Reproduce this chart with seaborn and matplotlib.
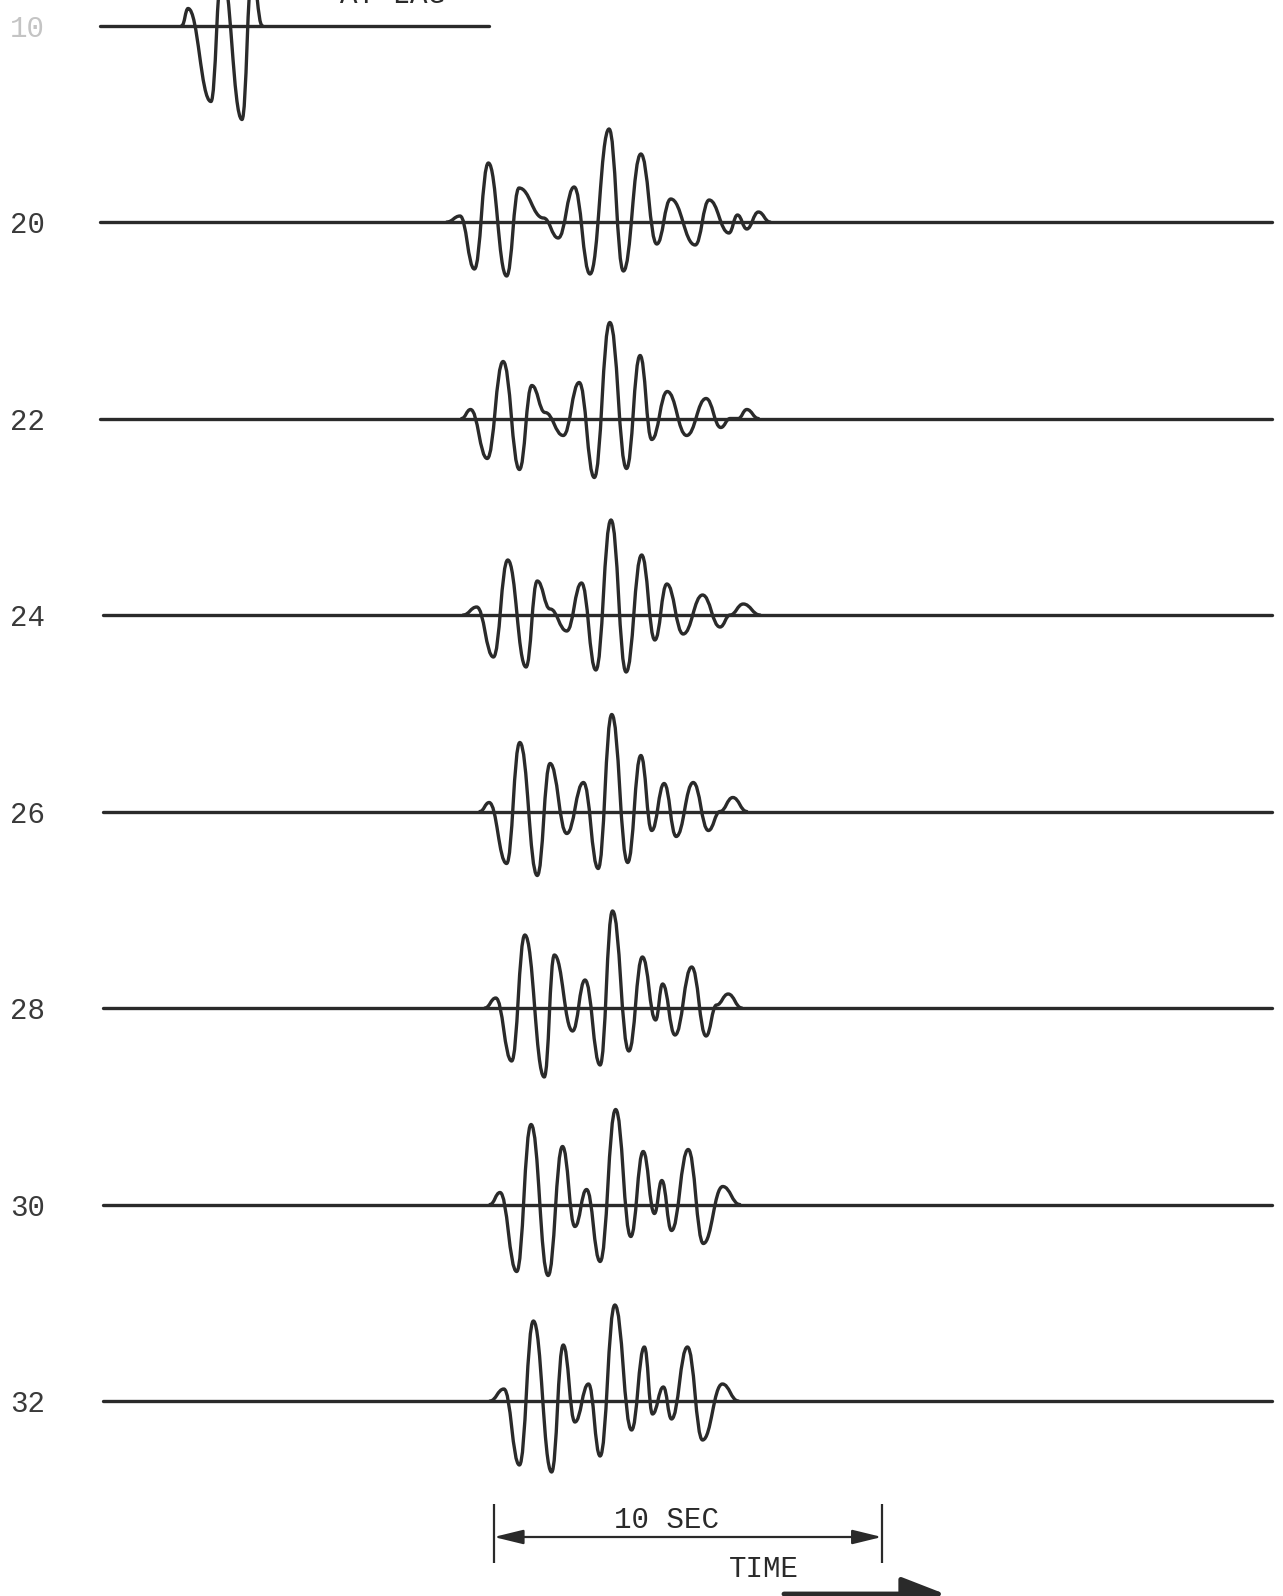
import numpy as np
import pandas as pd
import matplotlib
matplotlib.use("Agg")
import matplotlib.pyplot as plt
import seaborn as sns
from matplotlib.path import Path
from matplotlib.patches import PathPatch

# ---------------- data ----------------
# trace labels, top to bottom
labels = ["10", "20", "22", "24", "26", "28", "30", "32"]
# recorded span of each trace (s)
record_start = [0.0, 0.0, 0.0, 0.08, 0.08, 0.08, 0.08, 0.08]
record_end = [10.03, 30.2, 30.2, 30.2, 30.2, 30.2, 30.2, 30.2]

# extrema of each wavelet: time (s) and amplitude (relative units)
t10 = [2.11, 2.27, 2.86, 3.14, 3.66, 3.92, 4.18]
a10 = [0, 17, -76, 55, -94, 55, 0]

t20 = [8.94, 9.28, 9.65, 10.01, 10.48, 10.80, 11.43, 11.81, 12.22, 12.63, 13.12,
       13.49, 13.94, 14.35, 14.71, 15.34, 15.70, 16.21, 16.43, 16.67, 16.97, 17.27]
a20 = [0, 6, -47, 59, -54, 34, 4, -16, 35, -52, 93,
       -49, 68, -22, 23, -23, 22, -11, 7, -7, 10, 0]

t22 = [9.32, 9.55, 9.98, 10.39, 10.81, 11.13, 11.47, 11.94, 12.35, 12.74, 13.14,
       13.57, 13.92, 14.22, 14.62, 15.12, 15.62, 16.00, 16.24, 16.45, 16.67, 16.97]
a22 = [0, 9, -40, 57, -51, 33, 6, -17, 36, -59, 96,
       -50, 63, -21, 27, -17, 20, -9, 0, 0, 9, 0]

t24 = [9.36, 9.71, 10.14, 10.51, 10.98, 11.27, 11.60, 12.03, 12.41, 12.78, 13.17,
       13.56, 13.96, 14.30, 14.61, 15.03, 15.53, 15.98, 16.24, 16.58, 17.01]
a24 = [0, 8, -42, 55, -52, 34, 6, -16, 32, -55, 95,
       -57, 60, -25, 31, -19, 20, -12, 0, 11, 0]

t26 = [9.79, 10.03, 10.48, 10.82, 11.27, 11.60, 12.03, 12.46, 12.84, 13.19,
       13.60, 13.94, 14.22, 14.54, 14.85, 15.29, 15.68, 15.98, 16.31, 16.67]
a26 = [0, 9, -52, 69, -64, 48, -22, 29, -57, 97,
       -51, 56, -19, 28, -25, 29, -19, 0, 14, 0]

t28 = [9.92, 10.20, 10.61, 10.95, 11.45, 11.71, 12.18, 12.50, 12.89, 13.21,
       13.63, 13.98, 14.32, 14.50, 14.82, 15.25, 15.62, 15.89, 16.19, 16.54]
a28 = [0, 10, -53, 73, -69, 53, -23, 28, -57, 97,
       -43, 51, -12, 24, -27, 41, -28, 3, 14, 0]

t30 = [10.05, 10.31, 10.74, 11.11, 11.55, 11.92, 12.24, 12.54, 12.89, 13.29,
       13.68, 14.00, 14.29, 14.48, 14.73, 15.16, 15.55, 16.05, 16.49]
a30 = [0, 12, -67, 80, -71, 58, -22, 15, -57, 95,
       -32, 53, -9, 24, -26, 55, -39, 18, 0]

t32 = [10.05, 10.41, 10.81, 11.17, 11.64, 11.94, 12.24, 12.59, 12.89, 13.27,
       13.70, 14.03, 14.24, 14.52, 14.73, 15.14, 15.53, 16.04, 16.45]
a32 = [0, 12, -64, 80, -71, 56, -21, 17, -55, 96,
       -29, 54, -13, 14, -18, 54, -39, 17, 0]

trace_times = [t10, t20, t22, t24, t26, t28, t30, t32]
trace_amps = [a10, a20, a22, a24, a26, a28, a30, a32]

# time scale bar
scale_start = 10.15
scale_length = 10.0
scale_label = "10 SEC"
axis_label = "TIME"
header_text = "AT LAG"

# ---------------- styling / layout ----------------
sns.set_theme(style="white")
plt.rcParams["font.family"] = ["Liberation Mono", "DejaVu Sans Mono"]

INK = "#2a2a2a"
W, H = 1283, 1596
PX_PER_S = 38.8          # horizontal pixels per second
X0 = 100                 # pixel position of t = 0
TOP = 25.5               # pixel position of the first baseline
SPACING = 196.5          # vertical spacing between traces

fig = plt.figure(figsize=(W / 100, H / 100), dpi=100)
ax = fig.add_axes([0, 0, 1, 1])
ax.set_xlim(-X0 / PX_PER_S, (W - X0) / PX_PER_S)
ax.set_ylim(TOP - H, TOP)
ax.set_axis_off()


def ypx(p):
    """layout helper: pixel row -> data y"""
    return TOP - p


def xpx(p):
    return (p - X0) / PX_PER_S


# baselines with seaborn
rows = []
for i, lab in enumerate(labels):
    base = -i * SPACING
    rows.append({"t": record_start[i], "y": base, "trace": lab})
    rows.append({"t": record_end[i], "y": base, "trace": lab})
df = pd.DataFrame(rows)
sns.lineplot(data=df, x="t", y="y", units="trace", estimator=None,
             color=INK, lw=2.4, ax=ax, legend=False, sort=False)

# wavelets as smooth curves through the extrema
K = 0.44
for i, (tt, aa) in enumerate(zip(trace_times, trace_amps)):
    base = -i * SPACING
    verts = [(tt[0], base + aa[0])]
    codes = [Path.MOVETO]
    for j in range(len(tt) - 1):
        dt = tt[j + 1] - tt[j]
        verts += [(tt[j] + K * dt, base + aa[j]),
                  (tt[j + 1] - K * dt, base + aa[j + 1]),
                  (tt[j + 1], base + aa[j + 1])]
        codes += [Path.CURVE4] * 3
    ax.add_patch(PathPatch(Path(verts, codes), facecolor="none",
                           edgecolor=INK, lw=2.4, capstyle="round",
                           joinstyle="round"))

# trace labels
for i, lab in enumerate(labels):
    base = -i * SPACING
    col = "#c4c4c4" if i == 0 else "#3a3a3a"
    ax.text(xpx(10), base - 3, lab, ha="left", va="center", fontsize=21,
            color=col)

# header (cut off at the top edge, as in the scanned original)
ax.text(xpx(340), ypx(3), header_text, ha="left", va="baseline",
        fontsize=21, color=INK)

# scale bar
ax.vlines([scale_start, scale_start + scale_length], ypx(1504), ypx(1563),
          color=INK, lw=1.6)
ax.annotate("", xy=(scale_start, ypx(1537)),
            xytext=(scale_start + scale_length, ypx(1537)),
            arrowprops=dict(arrowstyle="<|-|>,head_length=0.9,head_width=0.22",
                            mutation_scale=20, lw=1.6, color=INK,
                            shrinkA=0, shrinkB=0))
ax.text(xpx(667), ypx(1528), scale_label, ha="center", va="baseline",
        fontsize=21, color=INK)
ax.text(xpx(764), ypx(1577), axis_label, ha="center", va="baseline",
        fontsize=21, color=INK)

# time direction arrow (partly cut at the bottom edge)
ax.annotate("", xy=(xpx(945), ypx(1594)), xytext=(xpx(784), ypx(1594)),
            arrowprops=dict(arrowstyle="-|>,head_length=0.9,head_width=0.35",
                            mutation_scale=30, lw=3.5, color=INK,
                            shrinkA=0, shrinkB=0))

fig.savefig("out.png", dpi=100, facecolor="white")
